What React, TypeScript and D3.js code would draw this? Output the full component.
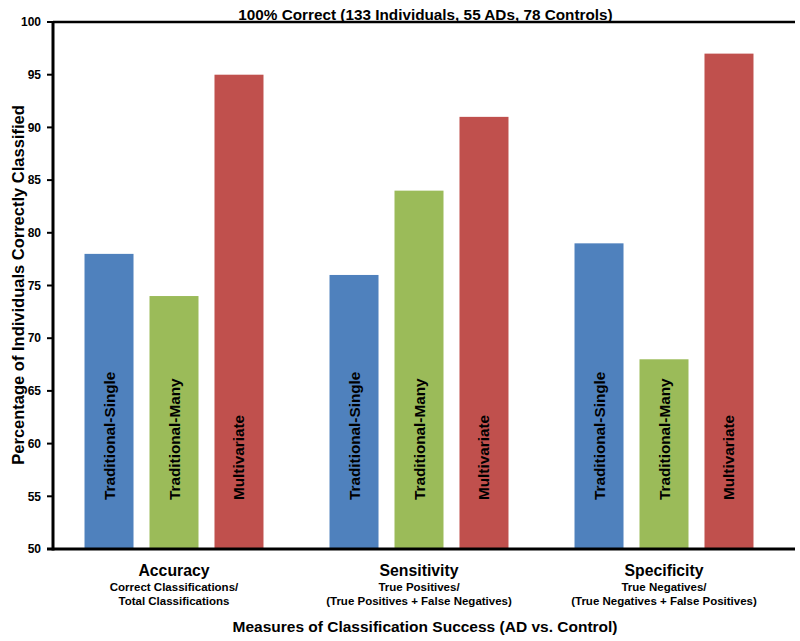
import React from "react";
import * as d3 from "d3";

const groups = ["Accuracy", "Sensitivity", "Specificity"];
const groupSub1 = ["Correct Classifications/", "True Positives/", "True Negatives/"];
const groupSub2 = [
  "Total Classifications",
  "(True Positives + False Negatives)",
  "(True Negatives + False Positives)",
];
const series = ["Traditional-Single", "Traditional-Many", "Multivariate"];
const seriesColors = ["#4F81BD", "#9BBB59", "#C0504D"];
const traditionalSingle = [78, 76, 79];
const traditionalMany = [74, 84, 68];
const multivariate = [95, 91, 97];
const yTicks = [50, 55, 60, 65, 70, 75, 80, 85, 90, 95, 100];

const values = [traditionalSingle, traditionalMany, multivariate];

export default function App() {
  const W = 800;
  const H = 641;
  const font = "'Liberation Sans', Arial, Helvetica, sans-serif";
  const axisX = 53;
  const y = d3.scaleLinear().domain([50, 100]).range([549, 22]);
  const x0 = d3.scaleBand<string>().domain(groups).range([51.5, 786.5]).padding(0);
  const x1 = d3
    .scaleBand<string>()
    .domain(series)
    .range([0, x0.bandwidth()])
    .paddingInner(0.246)
    .paddingOuter(0.508);

  return (
    <svg
      width={W}
      height={H}
      style={{ position: "absolute", left: 0, top: 0, background: "#fff" }}
      fontFamily={font}
    >
      <rect x={0} y={0} width={W} height={H} fill="#fff" />
      {groups.map((g, gi) =>
        series.map((s, si) => {
          const v = values[si][gi];
          const bx = (x0(g) as number) + (x1(s) as number);
          const bw = x1.bandwidth();
          const cx = bx + bw / 2;
          return (
            <g key={g + s}>
              <rect
                x={bx}
                y={y(v)}
                width={bw}
                height={y(50) - y(v)}
                fill={seriesColors[si]}
              />
              <text
                transform={`translate(${cx + 5.5},${500}) rotate(-90)`}
                fontSize={15.3}
                fontWeight="bold"
                fill="#000"
              >
                {s}
              </text>
            </g>
          );
        })
      )}
      {/* top line */}
      <line x1={axisX} x2={795} y1={y(100)} y2={y(100)} stroke="#000" strokeWidth={2.5} />
      {/* y axis */}
      <line x1={axisX} x2={axisX} y1={y(100) - 1} y2={y(50) + 1.5} stroke="#000" strokeWidth={3} />
      {/* x axis */}
      <line x1={47} x2={795} y1={y(50)} y2={y(50)} stroke="#000" strokeWidth={3} />
      {yTicks.map((t) => (
        <g key={t}>
          <line x1={47} x2={axisX} y1={y(t)} y2={y(t)} stroke="#000" strokeWidth={2} />
          <text
            x={41}
            y={y(t)}
            dy="0.35em"
            textAnchor="end"
            fontSize={12}
            fontWeight="bold"
            fill="#000"
          >
            {t}
          </text>
        </g>
      ))}
      <text x={425.5} y={20} textAnchor="middle" fontSize={15.3} fontWeight="bold" fill="#000">
        100% Correct (133 Individuals, 55 ADs, 78 Controls)
      </text>
      <text
        transform={`translate(23.5,${285}) rotate(-90)`}
        textAnchor="middle"
        fontSize={16.5}
        fontWeight="bold"
        fill="#000"
      >
        Percentage of Individuals Correctly Classified
      </text>
      {groups.map((g, gi) => {
        const cx = (x0(g) as number) + x0.bandwidth() / 2;
        return (
          <g key={g}>
            <text x={cx} y={576} textAnchor="middle" fontSize={15.8} fontWeight="bold" fill="#000">
              {g}
            </text>
            <text x={cx} y={591} textAnchor="middle" fontSize={11.5} fontWeight="bold" fill="#000">
              {groupSub1[gi]}
            </text>
            <text x={cx} y={605} textAnchor="middle" fontSize={11.5} fontWeight="bold" fill="#000">
              {groupSub2[gi]}
            </text>
          </g>
        );
      })}
      <text x={425} y={632} textAnchor="middle" fontSize={15.5} fontWeight="bold" fill="#000">
        Measures of Classification Success (AD vs. Control)
      </text>
    </svg>
  );
}
